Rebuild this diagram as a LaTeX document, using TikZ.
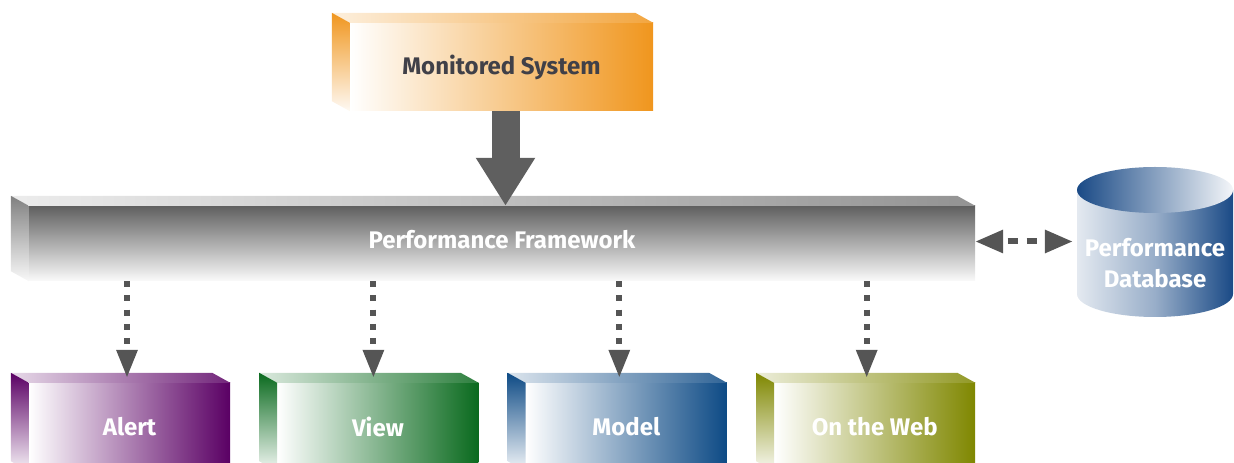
\documentclass[tikz,border=0pt]{standalone}
\usepackage{fontspec}
\setmainfont{Fira Sans}
\usetikzlibrary{arrows.meta, positioning, calc}

\definecolor{sysorange}{HTML}{F0961E}
\definecolor{fwgray}{HTML}{808080}
\definecolor{alertpurple}{HTML}{5A0064}
\definecolor{viewgreen}{HTML}{0A6A1E}
\definecolor{modelblue}{HTML}{0D4A85}
\definecolor{webolive}{HTML}{7F8700}
\definecolor{dbblue}{HTML}{1A4A86}
\definecolor{arrowgray}{HTML}{555555}
\definecolor{biggray}{HTML}{5F5F5F}
\definecolor{systext}{HTML}{404048}

\tikzset{
  slab/.style={minimum width=201pt, minimum height=88pt, inner sep=0pt,
    left color=white, right color=#1, text=white,
    font=\bfseries\fontsize{24}{31}\selectfont},
  dotarrow/.style={draw=arrowgray, line width=6pt, dash pattern=on 6pt off 8.2pt,
    -{Triangle[length=28pt,width=20pt]}},
  dbarrow/.style={draw=arrowgray, line width=6pt, dash pattern=on 10pt off 9pt,
    dash phase=13pt,
    {Triangle[length=28pt,width=22pt]}-{Triangle[length=28pt,width=22pt]}},
}

% top and left side of a slab
\newcommand{\slabsides}[2]{%
  \shade[left color=#2!15, right color=#2!85]
    (#1.north west) -- ++(-18,10) -- ([shift={(-18,10)}]#1.north east)
    -- (#1.north east) -- cycle;
  \shade[top color=#2, bottom color=#2!5]
    (#1.north west) -- ++(-18,10) -- ([shift={(-18,10)}]#1.south west)
    -- (#1.south west) -- cycle;
}

\begin{document}
\begin{tikzpicture}[x=1pt, y=1pt]
    \useasboundingbox (0,0) rectangle (1234,463);
    \clip (0,0) rectangle (1234,463);

    % monitored system
    \node[slab=sysorange, minimum width=303pt, text=systext] (mon) at (501.5,396) {Monitored System};
    \slabsides{mon}{sysorange}

    % framework
    \node[slab=fwgray, minimum width=946pt, minimum height=75pt, text depth=8pt,
      top color=fwgray!75!black, bottom color=white!98!black] (fw) at (502,219.5) {Performance Framework};
    \slabsides{fw}{fwgray}

    % outputs
    \node[slab=alertpurple] (al) at (129.5,36) {Alert};
    \node[slab=viewgreen, right=47pt of al] (vw) {View};
    \node[slab=modelblue, right=47pt of vw] (md) {Model};
    \node[slab=webolive, right=47pt of md] (web) {On the Web};
    \foreach \b/\c in {al/alertpurple, vw/viewgreen, md/modelblue, web/webolive}
      {\slabsides{\b}{\c}}

    % database
    \shade[left color=dbblue!12, right color=dbblue, middle color=dbblue!45]
      (1077,273) -- (1077,169) arc[start angle=180, end angle=360, x radius=78, y radius=23]
      -- (1233,273) -- cycle;
    \shade[left color=dbblue, right color=dbblue!5] (1155,273) ellipse[x radius=78, y radius=23];
    \node[minimum width=156pt, inner sep=0pt, align=center, text=white,
      font=\bfseries\fontsize{24}{31}\selectfont] (db) at (1155,200) {Performance\\Database};

    % arrows
    \draw[draw=biggray, line width=28pt, -{Triangle[length=48pt,width=56pt]}]
      ([xshift=4pt]mon.south) -- ([xshift=4pt]mon.south |- fw.north);
    \foreach \b/\dx in {al/-2.5, vw/-4.5, md/-7, web/-8}
      \draw[dotarrow] ($(\b.north |- fw.south)+(\dx,0)$) -- ($(\b.north)+(\dx,5)$);
    \draw[dbarrow, shorten >=4pt] ([yshift=2pt]fw.east) -- ([yshift=2pt]fw.east -| db.west);
\end{tikzpicture}
\end{document}
